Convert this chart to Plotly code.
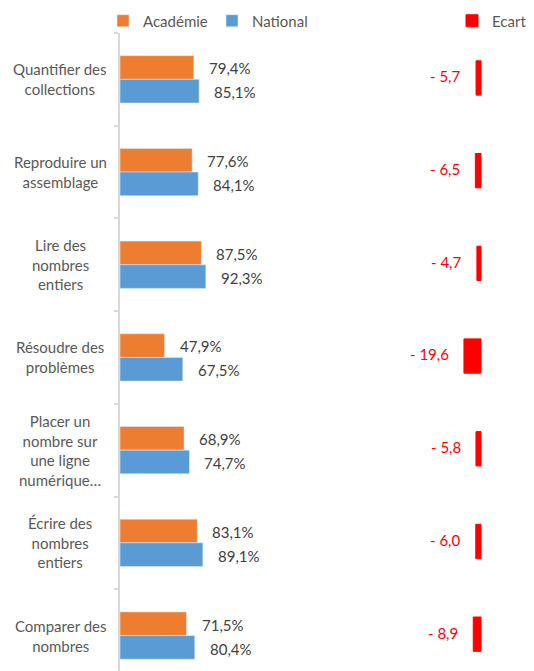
import plotly.graph_objects as go

categories = ["Quantifier des<br>collections", "Reproduire un<br>assemblage",
              "Lire des<br>nombres<br>entiers", "Résoudre des<br>problèmes",
              "Placer un<br>nombre sur<br>une ligne<br>numérique…",
              "Écrire des<br>nombres<br>entiers", "Comparer des<br>nombres"]
academie = [79.4, 77.6, 87.5, 47.9, 68.9, 83.1, 71.5]
national = [85.1, 84.1, 92.3, 67.5, 74.7, 89.1, 80.4]
ecart = [-5.7, -6.5, -4.7, -19.6, -5.8, -6.0, -8.9]

ORANGE = "#ED7D31"
BLUE = "#5B9BD5"
RED = "#FF0000"
GREY = "#595959"
FONT = "Lato"

def pct(v):
    return f"{v:.1f}".replace(".", ",") + "%"

def ec(v):
    return "- " + f"{abs(v):.1f}".replace(".", ",")

OFF = 8  # default page margin of the html body
W, H = 534 - OFF, 671 - OFF
L, T = 120 - OFF, 33 - OFF
PW, PH = W - L, H - T

fig = go.Figure()
fig.add_trace(go.Bar(y=categories, x=academie, orientation="h", name="Académie",
                     marker=dict(color=ORANGE), width=0.255, offset=-0.255,
                     legend="legend", xaxis="x", yaxis="y"))
fig.add_trace(go.Bar(y=categories, x=national, orientation="h", name="National",
                     marker=dict(color=BLUE), width=0.255, offset=0.0,
                     legend="legend2", xaxis="x", yaxis="y"))
fig.add_trace(go.Bar(y=categories, x=ecart, orientation="h", name="Ecart",
                     marker=dict(color=RED, line=dict(color=RED, width=1)),
                     width=0.37, offset=-0.2,
                     legend="legend3", xaxis="x2", yaxis="y"))

ann = []
for c, a, n, e in zip(categories, academie, national, ecart):
    ann.append(dict(xref="paper", x=(60 - OFF - L) / PW, yref="y", y=c, text=c,
                    showarrow=False, xanchor="center", yanchor="middle", align="center",
                    font=dict(family=FONT, size=15, color=GREY)))
    ann.append(dict(xref="x", x=a, yref="y", y=c, text=pct(a), showarrow=False,
                    xanchor="left", yanchor="middle", xshift=13, yshift=11,
                    font=dict(family=FONT, size=15, color="#404040")))
    ann.append(dict(xref="x", x=n, yref="y", y=c, text=pct(n), showarrow=False,
                    xanchor="left", yanchor="middle", xshift=13, yshift=-13,
                    font=dict(family=FONT, size=15, color="#404040")))
    ann.append(dict(xref="x2", x=e, yref="y", y=c, text=ec(e), showarrow=False,
                    xanchor="right", yanchor="middle", xshift=-13, yshift=3,
                    font=dict(family=FONT, size=15, color=RED)))

scale_main = 0.93
scale_ec = 0.87
zero_ec = 481 - OFF

def leg(px):
    return dict(xref="container", x=(px - OFF) / W, yref="container",
                y=1 - (21 - OFF) / H,
                xanchor="left", yanchor="middle",
                orientation="h", bgcolor="rgba(0,0,0,0)",
                font=dict(family=FONT, size=15, color=GREY))

fig.update_layout(
    width=W, height=H,
    showlegend=True,
    margin=dict(l=L, r=0, t=T, b=0, pad=0, autoexpand=False),
    paper_bgcolor="white", plot_bgcolor="white",
    barmode="overlay",
    font=dict(family=FONT, color=GREY),
    xaxis=dict(range=[0, PW / scale_main], visible=False, showgrid=False, fixedrange=True),
    xaxis2=dict(range=[-(zero_ec - L) / scale_ec, (W - zero_ec) / scale_ec],
                overlaying="x", side="bottom", visible=False, showgrid=False),
    yaxis=dict(type="category", categoryorder="array", categoryarray=categories,
               range=[-0.5 + PH / 92.7, -0.5], showticklabels=False,
               showline=True, linecolor="#D9D9D9", linewidth=2,
               ticks="outside", tickson="boundaries", ticklen=4, tickcolor="#D9D9D9",
               tickwidth=1.5, showgrid=False, zeroline=False),
    legend=leg(103),
    legend2=leg(212),
    legend3=leg(452),
    annotations=ann,
)

fig.write_html("out.html")
